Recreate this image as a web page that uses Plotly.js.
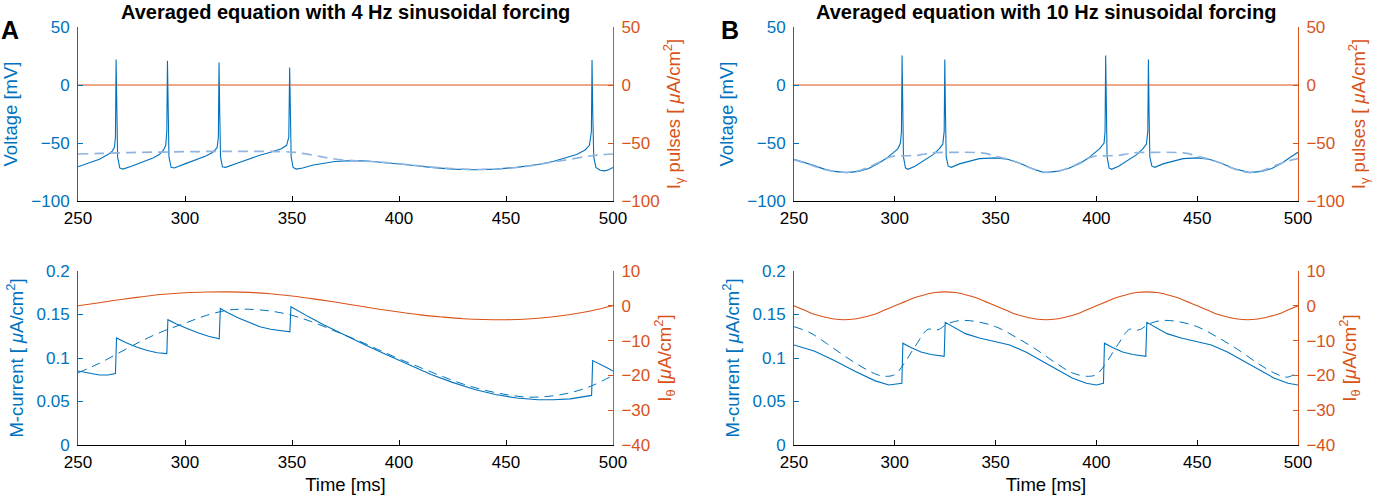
<!DOCTYPE html>
<html>
<head>
<meta charset="utf-8">
<script src="https://cdn.plot.ly/plotly-3.0.1.min.js"></script>
<style>
  body { margin: 0; background: #fff; }
  #plot { width: 1383px; height: 499px; }
</style>
</head>
<body>
<div id="plot"></div>
<script>
"use strict";

// ---- panel A, 4 Hz forcing ----
var tVoltA = [250, 255, 260, 264, 266, 267, 267.5, 267.8, 268.1, 268.5, 269.5, 271, 275, 280, 285, 288, 290, 291, 291.5, 291.8, 292.1, 292.5, 293.5, 295,
  300, 305, 310, 313, 315, 315.6, 315.9, 316.2, 316.6, 317.5, 319, 325, 330, 335, 340, 345, 347.5, 348.5, 348.9, 349.2, 349.6, 350.5, 352, 355,
  360, 370, 378, 385, 395, 405, 415, 425, 435, 445, 455, 465, 472, 478, 483, 487, 489, 489.9, 490.2, 490.5, 491, 492, 494, 496, 498, 500];
var voltA = [-70.5, -67.5, -64, -60, -57, -54, -45, 22, -20, -62, -71.5, -72.5, -70, -66.5, -63, -60, -56, -52, -40, 21, -20, -62, -71, -71.5,
  -68, -64.5, -61, -58, -54, -45, 19.5, -20, -62, -70.5, -71, -67, -63.5, -60.5, -58, -55, -52, -45, 15, -20, -62, -71, -72.5, -71.5,
  -69, -66, -65.2, -65.5, -67, -69, -71, -72.5, -73, -72.5, -71, -68.5, -66, -63, -60, -56, -52, -40, 21.5, -20, -62, -71, -73.5, -74, -73, -71];

var tVoltAvgA = [250, 260, 270, 280, 290, 300, 310, 320, 330, 340, 350, 355, 360, 365, 370, 375, 380, 390, 400, 410, 420, 430, 440, 450, 460, 470, 480, 490, 500];
var voltAvgA = [-59.5, -59, -58.5, -58, -57.8, -57.5, -57.3, -57.2, -57.2, -57.3, -57.8, -59, -60.5, -62.3, -63.8, -64.8, -65.4, -66.3, -68, -69.8, -71.5, -72.6, -72.8, -72, -70, -67, -64, -61, -59.5];

var tGamma = [250, 500];
var iGammaA = [0, 0];
var iGammaB = [0, 0];

var tMA = [250, 255, 260, 264, 267.5, 268, 272, 277, 282, 287, 291.5, 292, 296, 301, 306, 311, 316, 316.5, 320, 325, 330, 335, 340, 345, 349, 349.5,
  353, 358, 365, 375, 385, 395, 405, 415, 425, 435, 445, 455, 465, 472, 480, 486, 490, 490.5, 494, 497, 500];
var mA = [0.085, 0.0825, 0.0805, 0.0805, 0.082, 0.123, 0.118, 0.113, 0.109, 0.106, 0.105, 0.144, 0.139, 0.134, 0.129, 0.125, 0.122, 0.157, 0.152, 0.146, 0.141, 0.136, 0.133, 0.131, 0.130, 0.159,
  0.154, 0.147, 0.138, 0.126, 0.114, 0.103, 0.092, 0.081, 0.072, 0.064, 0.058, 0.054, 0.052, 0.052, 0.053, 0.055, 0.057, 0.097, 0.093, 0.089, 0.085];

var tMAvgA = [250, 260, 270, 280, 290, 300, 310, 320, 325, 330, 340, 350, 360, 370, 380, 390, 400, 410, 420, 430, 440, 450, 460, 470, 480, 490, 500];
var mAvgA = [0.083, 0.094, 0.107, 0.120, 0.131, 0.140, 0.149, 0.155, 0.156, 0.156, 0.154, 0.149, 0.141, 0.131, 0.121, 0.110, 0.099, 0.089, 0.079, 0.070, 0.063, 0.058, 0.055, 0.056, 0.060, 0.068, 0.080];

var tThetaA = [250, 260, 270, 280, 290, 300, 310, 320, 330, 340, 350, 360, 370, 380, 390, 400, 410, 420, 430, 440, 450, 460, 470, 480, 490, 500];
var iThetaA = [0, 0.9, 1.8, 2.6, 3.3, 3.75, 3.95, 4.0, 3.85, 3.45, 2.8, 2.0, 1.1, 0.1, -0.9, -1.8, -2.6, -3.2, -3.7, -3.95, -4.0, -3.8, -3.3, -2.5, -1.4, 0];

// ---- panel B, 10 Hz forcing ----
var tVoltB = [250, 255, 260, 265, 270, 276, 282, 287, 292, 296, 299, 301.5, 302.8, 303.3, 303.6, 303.9, 304.3, 305.3, 306.5, 310, 315, 319, 322, 323.8, 324.5, 324.8, 325.1, 325.5, 326.5, 328,
  332, 336, 342, 350, 356, 362, 368, 374, 380, 386, 392, 396, 399, 401.5, 403.8, 404.3, 404.6, 404.9, 405.3, 406.3, 407.5, 411, 416, 420, 423, 424.8, 425.5, 425.8, 426.1, 426.5, 427.5, 429,
  433, 437, 443, 450, 456, 462, 468, 476, 482, 487, 492, 496, 500];
var voltB = [-64, -66.5, -69.5, -72.5, -74.5, -75.5, -74.5, -72, -67.5, -63, -59, -55, -50, -40, 25.5, -20, -62, -71.5, -72.7, -70, -64.5, -60, -55, -51, -40, 22, -20, -62, -70, -71,
  -68, -66, -63.5, -62.8, -64, -67.5, -72, -75.5, -74.5, -72, -67.5, -63, -59, -55, -50, -40, 25.5, -20, -62, -71.5, -72.7, -70, -64.5, -60, -55, -51, -40, 22, -20, -62, -70, -71,
  -68, -66, -63.5, -62.8, -64, -67.5, -72, -75.5, -74.5, -72, -67.5, -62.5, -58];

var tVoltAvgB = [250, 255, 260, 265, 270, 276, 282, 288, 293, 297, 300, 305, 310, 315, 320, 330, 340, 345, 350, 355, 362, 368, 375, 382, 388, 393, 397,
  400, 405, 410, 415, 420, 430, 440, 445, 450, 455, 462, 468, 475, 482, 488, 494, 500];
var voltAvgB = [-64.5, -67, -70, -72.7, -74.5, -75.2, -74, -70, -66, -62.5, -61.2, -61, -60.8, -59.5, -58.3, -58, -58.2, -59, -61.5, -63.5, -67.5, -72, -75.2, -74, -70, -66, -62.5,
  -61.2, -61, -60.8, -59.5, -58.3, -58, -58.2, -59, -61.5, -63.5, -67.5, -72, -75.2, -74, -70, -66, -63.5];

var tMB = [250, 260, 270, 280, 290, 297, 303.5, 304, 308, 313, 318, 324.5, 325, 330, 335, 342, 350, 357, 365, 372, 380, 388, 395,
  400, 403.5, 404, 408, 413, 418, 424.5, 425, 430, 435, 442, 450, 457, 465, 472, 480, 488, 495, 500];
var mB = [0.115, 0.108, 0.097, 0.085, 0.074, 0.069, 0.071, 0.117, 0.112, 0.107, 0.104, 0.102, 0.141, 0.134, 0.128, 0.123, 0.119, 0.115, 0.107, 0.098, 0.087, 0.077, 0.071,
  0.069, 0.071, 0.117, 0.112, 0.107, 0.104, 0.102, 0.141, 0.134, 0.128, 0.123, 0.119, 0.115, 0.107, 0.098, 0.087, 0.077, 0.071, 0.069];

var tMAvgB = [250, 258, 266, 274, 282, 290, 295, 300, 305, 310, 316.5, 320, 322, 326, 332, 340, 350, 360, 370, 380, 388, 395,
  400, 405, 410, 416.5, 420, 422, 426, 432, 440, 450, 460, 470, 480, 488, 495, 500];
var mAvgB = [0.136, 0.129, 0.117, 0.104, 0.092, 0.082, 0.079, 0.081, 0.095, 0.113, 0.133, 0.132, 0.133, 0.139, 0.143, 0.142, 0.136, 0.124, 0.110, 0.094, 0.083, 0.079,
  0.081, 0.095, 0.113, 0.133, 0.132, 0.133, 0.139, 0.143, 0.142, 0.136, 0.124, 0.110, 0.094, 0.083, 0.078, 0.085];

var tThetaB = [250, 255, 260, 265, 270, 275, 280, 285, 290, 295, 300, 305, 310, 315, 320, 325, 330, 335, 340, 345, 350,
  355, 360, 365, 370, 375, 380, 385, 390, 395, 400, 405, 410, 415, 420, 425, 430, 435, 440, 445, 450,
  455, 460, 465, 470, 475, 480, 485, 490, 495, 500];
var iThetaB = [0, -1.2, -2.4, -3.2, -3.8, -4, -3.8, -3.2, -2.4, -1.2, 0, 1.2, 2.4, 3.2, 3.8, 4, 3.8, 3.2, 2.4, 1.2, 0,
  -1.2, -2.4, -3.2, -3.8, -4, -3.8, -3.2, -2.4, -1.2, 0, 1.2, 2.4, 3.2, 3.8, 4, 3.8, 3.2, 2.4, 1.2, 0,
  -1.2, -2.4, -3.2, -3.8, -4, -3.8, -3.2, -2.4, -1.2, 0];

var panelTitles = ["Averaged equation with 4 Hz sinusoidal forcing", "Averaged equation with 10 Hz sinusoidal forcing"];
var panelLetters = ["A", "B"];

var BLUE = "#0072BD";
var ORANGE = "#D95319";
var W = 1383, H = 499;
var FONT = "Liberation Sans, Arial, Helvetica, sans-serif";

function px(x){ return x / W; }
function py(y){ return 1 - y / H; }

function line(x, y, xa, ya, color, dash, width){
    return {
        x: x, y: y, xaxis: xa, yaxis: ya, type: "scatter", mode: "lines",
        line: {color: color, width: width || 1.1, dash: dash || "solid"},
        hoverinfo: "skip", showlegend: false
    };
}

var data = [
    line(tVoltA, voltA, "x", "y", BLUE),
    line(tVoltAvgA, voltAvgA, "x", "y", "#8fb4e0", "10px,6px", 1.7),
    line(tGamma, iGammaA, "x", "y2", ORANGE),

    line(tMA, mA, "x2", "y3", BLUE),
    line(tMAvgA, mAvgA, "x2", "y3", BLUE, "9px,6px", 1),
    line(tThetaA, iThetaA, "x2", "y4", ORANGE),

    line(tVoltB, voltB, "x3", "y5", BLUE),
    line(tVoltAvgB, voltAvgB, "x3", "y5", "#8fb4e0", "10px,6px", 1.7),
    line(tGamma, iGammaB, "x3", "y6", ORANGE),

    line(tMB, mB, "x4", "y7", BLUE),
    line(tMAvgB, mAvgB, "x4", "y7", BLUE, "9px,6px", 1),
    line(tThetaB, iThetaB, "x4", "y8", ORANGE)
];
// smooth curves for the averaged / sinusoidal traces
[1, 4, 5, 7, 10, 11].forEach(function(i){ data[i].line.shape = "spline"; });

function xAxis(dom, anchor, withTitle){
    var ax = {
        domain: dom, anchor: anchor, range: [250, 500], tickvals: [250, 300, 350, 400, 450, 500],
        showline: true, linecolor: "#000", linewidth: 1, ticks: "inside", ticklen: 5, tickcolor: "#000",
        showgrid: false, zeroline: false, tickfont: {size: 17, color: "#000"}, ticklabelstandoff: 2
    };
    if(withTitle){
        ax.title = {text: "Time [ms]", font: {size: 18.5, color: "#000"}, standoff: 6};
    }
    return ax;
}

function yAxis(dom, anchor, range, ticks, color, title, right, overlay){
    var ax = {
        domain: dom, anchor: anchor, range: range, tickvals: ticks,
        showline: true, linecolor: color, linewidth: 1, ticks: "inside", ticklen: 5, tickcolor: color,
        showgrid: false, zeroline: false, tickfont: {size: 17, color: color}, ticklabelstandoff: 4,
        title: {text: title, font: {size: 18.5, color: color}, standoff: 8}
    };
    if(right){
        ax.side = "right";
        ax.overlaying = overlay;
    }
    return ax;
}

var xA = [px(78), px(613)];
var xB = [px(794), px(1298)];
var yTop = [py(201), py(27)];
var yBot = [py(445), py(271)];

var vTitle = "Voltage [mV]";
var gTitle = "I<sub>γ</sub> pulses [ <i>μ</i>A/cm<sup>2</sup>]";
var mTitle = "M-current [ <i>μ</i>A/cm<sup>2</sup>]";
var thTitle = "I<sub>θ</sub> [<i>μ</i>A/cm<sup>2</sup>]";
var vTicks = [-100, -50, 0, 50];
var mTicks = [0, 0.05, 0.1, 0.15, 0.2];
var thTicks = [-40, -30, -20, -10, 0, 10];

var layout = {
    width: W, height: H,
    margin: {l: 0, r: 0, t: 0, b: 0},
    paper_bgcolor: "#fff", plot_bgcolor: "#fff",
    font: {family: FONT, color: "#000"},
    showlegend: false,

    xaxis: xAxis(xA, "y", false),
    yaxis: yAxis(yTop, "x", [-100, 50], vTicks, BLUE, vTitle),
    yaxis2: yAxis(yTop, "x", [-100, 50], vTicks, ORANGE, gTitle, true, "y"),

    xaxis2: xAxis(xA, "y3", true),
    yaxis3: yAxis(yBot, "x2", [0, 0.2], mTicks, BLUE, mTitle),
    yaxis4: yAxis(yBot, "x2", [-40, 10], thTicks, ORANGE, thTitle, true, "y3"),

    xaxis3: xAxis(xB, "y5", false),
    yaxis5: yAxis(yTop, "x3", [-100, 50], vTicks, BLUE, vTitle),
    yaxis6: yAxis(yTop, "x3", [-100, 50], vTicks, ORANGE, gTitle, true, "y5"),

    xaxis4: xAxis(xB, "y7", true),
    yaxis7: yAxis(yBot, "x4", [0, 0.2], mTicks, BLUE, mTitle),
    yaxis8: yAxis(yBot, "x4", [-40, 10], thTicks, ORANGE, thTitle, true, "y7"),

    annotations: [
        {text: "<b>" + panelTitles[0] + "</b>", x: (xA[0] + xA[1]) / 2, y: py(12), xref: "paper", yref: "paper",
         showarrow: false, xanchor: "center", yanchor: "middle", font: {size: 20, color: "#000"}},
        {text: "<b>" + panelTitles[1] + "</b>", x: (xB[0] + xB[1]) / 2, y: py(12), xref: "paper", yref: "paper",
         showarrow: false, xanchor: "center", yanchor: "middle", font: {size: 20, color: "#000"}},
        {text: "<b>" + panelLetters[0] + "</b>", x: px(10), y: py(30), xref: "paper", yref: "paper",
         showarrow: false, xanchor: "center", yanchor: "middle", font: {size: 25, color: "#000"}},
        {text: "<b>" + panelLetters[1] + "</b>", x: px(730), y: py(30), xref: "paper", yref: "paper",
         showarrow: false, xanchor: "center", yanchor: "middle", font: {size: 25, color: "#000"}}
    ]
};

Plotly.newPlot("plot", data, layout, {displayModeBar: false, staticPlot: true});
</script>
</body>
</html>
